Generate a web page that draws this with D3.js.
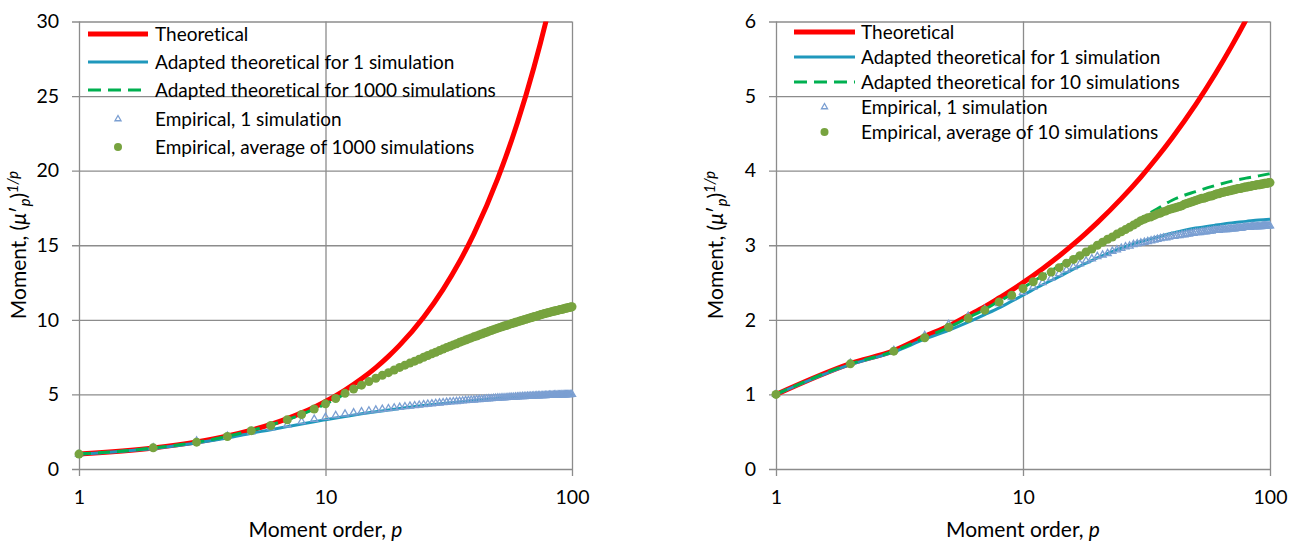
<!DOCTYPE html>
<html><head><meta charset="utf-8">
<script src="https://cdn.jsdelivr.net/npm/d3@7"></script>
<style>
body{margin:0;background:#fff;}
svg{display:block;font-family:Lato,"Open Sans",sans-serif;font-variant-ligatures:none;font-feature-settings:"liga" 0,"clig" 0;}
</style></head><body>
<svg id="chart" width="1298" height="545"></svg>
<script>
// Moment orders p at which the empirical moments are plotted
const orders = d3.range(1, 101);
// Orders used for the smooth theoretical curves
const lineOrders = [1,2,3,4,5,6,7,8,9,10,12,14,16,18,20,25,30,35,40,50,60,70,80,90,100];

// ---- Left panel: 1000 simulations ----
const leftTheoretical = [1.000,1.414,1.817,2.213,2.605,2.994,3.380,3.764,4.147,4.529,5.289,6.043,6.798,7.551,8.303,10.176,12.043,13.907,15.767,19.483,23.19,26.90,30.60,34.30,37.99];
const leftAdapted1 = [1.00,1.38,1.75,2.08,2.40,2.63,2.84,3.02,3.17,3.30,3.52,3.70,3.84,3.95,4.05,4.25,4.39,4.50,4.59,4.72,4.81,4.88,4.93,4.96,4.99];
const leftAdaptedN = [1.00,1.41,1.80,2.19,2.58,2.95,3.31,3.66,4.01,4.35,5.03,5.58,6.05,6.43,6.78,7.47,8.02,8.47,8.84,9.43,9.85,10.18,10.47,10.68,10.87];
const leftEmpirical1 = [
1.00,1.43,1.88,2.20,2.50,2.76,2.97,3.18,3.34,3.47,
3.59,3.69,3.77,3.84,3.90,3.96,4.01,4.05,4.10,4.14,
4.18,4.22,4.25,4.28,4.32,4.35,4.37,4.40,4.43,4.45,
4.48,4.50,4.52,4.53,4.55,4.57,4.59,4.60,4.62,4.63,
4.65,4.66,4.67,4.69,4.70,4.71,4.72,4.74,4.75,4.76,
4.77,4.78,4.78,4.79,4.80,4.81,4.82,4.82,4.83,4.84,
4.85,4.85,4.86,4.86,4.87,4.88,4.88,4.89,4.89,4.90,
4.90,4.91,4.91,4.92,4.92,4.92,4.93,4.93,4.94,4.94,
4.95,4.95,4.95,4.95,4.96,4.96,4.96,4.97,4.97,4.97,
4.98,4.98,4.98,4.98,4.99,4.99,4.99,4.99,5.00,5.00];
const leftEmpiricalN = [
1.00,1.42,1.80,2.18,2.57,2.92,3.30,3.65,4.02,4.37,
4.73,5.07,5.36,5.62,5.86,6.08,6.28,6.46,6.64,6.81,
6.96,7.10,7.23,7.36,7.49,7.61,7.72,7.83,7.94,8.04,
8.14,8.23,8.32,8.40,8.49,8.57,8.64,8.72,8.79,8.86,
8.92,8.99,9.05,9.11,9.17,9.23,9.28,9.34,9.39,9.44,
9.49,9.53,9.58,9.62,9.66,9.71,9.75,9.79,9.83,9.86,
9.90,9.94,9.97,10.01,10.04,10.08,10.11,10.14,10.17,10.20,
10.23,10.26,10.29,10.32,10.35,10.38,10.41,10.43,10.46,10.48,
10.50,10.53,10.55,10.57,10.59,10.61,10.63,10.65,10.67,10.69,
10.71,10.73,10.75,10.77,10.79,10.80,10.82,10.84,10.86,10.88];

// ---- Right panel: 10 simulations ----
const rightTheoretical = [1.000,1.414,1.587,1.778,1.918,2.058,2.177,2.293,2.398,2.499,2.686,2.856,3.014,3.163,3.303,3.625,3.915,4.183,4.432,4.885,5.296,5.673,6.023,6.354,6.666];
const rightAdapted1 = [1.00,1.40,1.57,1.74,1.86,1.97,2.07,2.16,2.25,2.33,2.47,2.58,2.68,2.76,2.83,2.96,3.05,3.11,3.16,3.23,3.27,3.30,3.32,3.34,3.35];
const rightAdaptedN = [1.00,1.41,1.58,1.76,1.90,2.03,2.14,2.25,2.34,2.43,2.59,2.72,2.83,2.93,3.02,3.20,3.36,3.49,3.60,3.72,3.80,3.86,3.90,3.93,3.96];
const rightEmpirical1 = [
1.00,1.42,1.59,1.79,1.94,2.05,2.14,2.22,2.30,2.37,
2.44,2.50,2.56,2.62,2.67,2.71,2.75,2.79,2.82,2.85,
2.87,2.89,2.92,2.94,2.96,2.98,2.99,3.01,3.02,3.03,
3.04,3.05,3.06,3.07,3.08,3.09,3.10,3.10,3.11,3.12,
3.12,3.13,3.13,3.14,3.14,3.15,3.15,3.16,3.16,3.17,
3.17,3.17,3.18,3.18,3.18,3.19,3.19,3.19,3.20,3.20,
3.20,3.20,3.21,3.21,3.21,3.21,3.21,3.22,3.22,3.22,
3.22,3.22,3.23,3.23,3.23,3.23,3.23,3.24,3.24,3.24,
3.24,3.24,3.24,3.25,3.25,3.25,3.25,3.25,3.25,3.25,
3.25,3.25,3.26,3.26,3.26,3.26,3.26,3.26,3.26,3.26];
const rightEmpiricalN = [
1.00,1.41,1.58,1.76,1.90,2.02,2.13,2.24,2.33,2.42,
2.51,2.58,2.64,2.70,2.76,2.81,2.86,2.91,2.95,3.00,
3.04,3.08,3.11,3.15,3.18,3.21,3.24,3.27,3.30,3.33,
3.35,3.37,3.38,3.40,3.42,3.43,3.45,3.46,3.48,3.49,
3.50,3.51,3.52,3.53,3.55,3.56,3.57,3.58,3.59,3.60,
3.61,3.62,3.63,3.63,3.64,3.65,3.66,3.66,3.67,3.68,
3.69,3.69,3.70,3.71,3.71,3.72,3.72,3.73,3.73,3.74,
3.74,3.75,3.75,3.76,3.76,3.76,3.77,3.77,3.78,3.78,
3.78,3.79,3.79,3.79,3.80,3.80,3.80,3.81,3.81,3.81,
3.81,3.82,3.82,3.82,3.83,3.83,3.83,3.83,3.84,3.84];

// Axis ticks
const xTicks = [1, 10, 100];
const yTicksLeft = [0, 5, 10, 15, 20, 25, 30];
const yTicksRight = [0, 1, 2, 3, 4, 5, 6];

// Legend labels
const legendLeft = ["Theoretical","Adapted theoretical for 1 simulation","Adapted theoretical for 1000 simulations","Empirical, 1 simulation","Empirical, average of 1000 simulations"];
const legendRight = ["Theoretical","Adapted theoretical for 1 simulation","Adapted theoretical for 10 simulations","Empirical, 1 simulation","Empirical, average of 10 simulations"];

const C = {
  red: "#FF0000", teal: "#1F98BC", dash: "#00B050",
  tri: "#7B9FD2", dot: "#77A33F", grid: "#8C8C8C", text: "#000"
};
const FS_TICK = 19.5, FS_TITLE = 21, FS_LEG = 19;

const svg = d3.select("#chart");

function panel(cfg) {
  const x = d3.scaleLog().domain([1, 100]).range([cfg.x0, cfg.x1]);
  const y = d3.scaleLinear().domain([0, cfg.yMax]).range([469, 21.5]);
  const g = svg.append("g");
  const w = cfg.x1 - cfg.x0, h = 469 - 21.5;

  // horizontal grid + y axis
  const ya = g.append("g").attr("transform", `translate(${cfg.x0},0)`)
    .call(d3.axisLeft(y).tickValues(cfg.yTicks).tickSizeInner(-w).tickSizeOuter(0).tickPadding(20).tickFormat(d3.format("d")));
  ya.select(".domain").remove();
  ya.selectAll(".tick line").attr("x1", -7).attr("stroke", C.grid).attr("stroke-width", 1.3);
  ya.selectAll(".tick text").attr("font-size", FS_TICK).attr("font-family", "Lato").attr("fill", C.text);

  // vertical grid + x axis
  const xa = g.append("g").attr("transform", `translate(0,469)`)
    .call(d3.axisBottom(x).tickValues(xTicks).tickSizeInner(-h).tickSizeOuter(0).tickPadding(21).tickFormat(d3.format("d")));
  xa.select(".domain").remove();
  xa.selectAll(".tick line").attr("y1", 7).attr("stroke", C.grid).attr("stroke-width", 1.3);
  xa.selectAll(".tick text").attr("font-size", FS_TICK).attr("font-family", "Lato").attr("fill", C.text);

  // axis titles
  const xt = g.append("text").attr("x", (cfg.x0 + cfg.x1) / 2).attr("y", 537)
    .attr("text-anchor", "middle").attr("font-size", FS_TITLE);
  xt.append("tspan").text("Moment order, ");
  xt.append("tspan").attr("font-style", "italic").text("p");

  const yt = g.append("text").attr("transform", `translate(${cfg.x0 - 53},245) rotate(-90)`)
    .attr("text-anchor", "middle").attr("font-size", FS_TITLE);
  yt.append("tspan").text("Moment, (");
  yt.append("tspan").attr("font-style", "italic").text("μ");
  yt.append("tspan").text("\u2032");
  yt.append("tspan").attr("font-style", "italic").attr("font-size", FS_TITLE * 0.7).attr("dy", 4).text("p");
  yt.append("tspan").attr("dy", -4).text(")");
  yt.append("tspan").attr("font-style", "italic").attr("font-size", FS_TITLE * 0.7).attr("dy", -8).text("1/p");

  // clip region for the curves
  const clipId = "clip" + cfg.id;
  svg.append("clipPath").attr("id", clipId).append("rect")
    .attr("x", cfg.x0 - 6).attr("y", 21.5).attr("width", w + 12).attr("height", h + 6);
  const plot = g.append("g").attr("clip-path", `url(#${clipId})`);

  const line = vals => d3.line().x((d, i) => x(lineOrders[i])).y(d => y(d)).curve(d3.curveMonotoneX)(vals);

  plot.append("path").attr("d", line(cfg.theo)).attr("fill", "none").attr("stroke", C.red).attr("stroke-width", 5);
  plot.append("path").attr("d", line(cfg.ad1)).attr("fill", "none").attr("stroke", C.teal).attr("stroke-width", 3);
  plot.append("path").attr("d", line(cfg.adN)).attr("fill", "none").attr("stroke", C.dash).attr("stroke-width", 3).attr("stroke-dasharray", "12,7");

  const tri = d3.symbol().type(d3.symbolTriangle).size(22);
  plot.selectAll(".tri").data(cfg.emp1).join("path")
    .attr("transform", (d, i) => `translate(${x(orders[i])},${y(d)})`)
    .attr("d", tri).attr("fill", "none").attr("stroke", C.tri).attr("stroke-width", 1.3);
  plot.selectAll(".dot").data(cfg.empN).join("circle")
    .attr("cx", (d, i) => x(orders[i])).attr("cy", d => y(d)).attr("r", 4.5).attr("fill", C.dot);

  // legend
  const lg = g.append("g");
  const L = cfg.leg;
  const rows = L.rows;
  const lx0 = L.x0, lx1 = L.x1, mx = (lx0 + lx1) / 2;
  lg.append("line").attr("x1", lx0).attr("x2", lx1).attr("y1", rows[0]).attr("y2", rows[0]).attr("stroke", C.red).attr("stroke-width", 5);
  lg.append("line").attr("x1", lx0).attr("x2", lx1).attr("y1", rows[1]).attr("y2", rows[1]).attr("stroke", C.teal).attr("stroke-width", 3);
  lg.append("line").attr("x1", lx0).attr("x2", lx1).attr("y1", rows[2]).attr("y2", rows[2]).attr("stroke", C.dash).attr("stroke-width", 3).attr("stroke-dasharray", "13,7");
  lg.append("path").attr("transform", `translate(${mx},${rows[3]})`).attr("d", d3.symbol().type(d3.symbolTriangle).size(16)())
    .attr("fill", "none").attr("stroke", C.tri).attr("stroke-width", 1.3);
  lg.append("circle").attr("cx", mx).attr("cy", rows[4]).attr("r", 4).attr("fill", C.dot);
  lg.selectAll("text.lab").data(cfg.labels).join("text")
    .attr("x", L.tx).attr("y", (d, i) => rows[i]).attr("dy", "0.35em")
    .attr("font-size", FS_LEG).text(d => d);
}

panel({ id: "L", x0: 79, x1: 572, yMax: 30, yTicks: yTicksLeft,
  theo: leftTheoretical, ad1: leftAdapted1, adN: leftAdaptedN, emp1: leftEmpirical1, empN: leftEmpiricalN,
  labels: legendLeft, leg: { x0: 88, x1: 148, tx: 155, rows: [34, 62, 90, 119, 147] } });
panel({ id: "R", x0: 776, x1: 1270, yMax: 6, yTicks: yTicksRight,
  theo: rightTheoretical, ad1: rightAdapted1, adN: rightAdaptedN, emp1: rightEmpirical1, empN: rightEmpiricalN,
  labels: legendRight, leg: { x0: 794, x1: 855, tx: 861, rows: [32, 57, 82, 107, 132] } });
</script>
</body></html>
